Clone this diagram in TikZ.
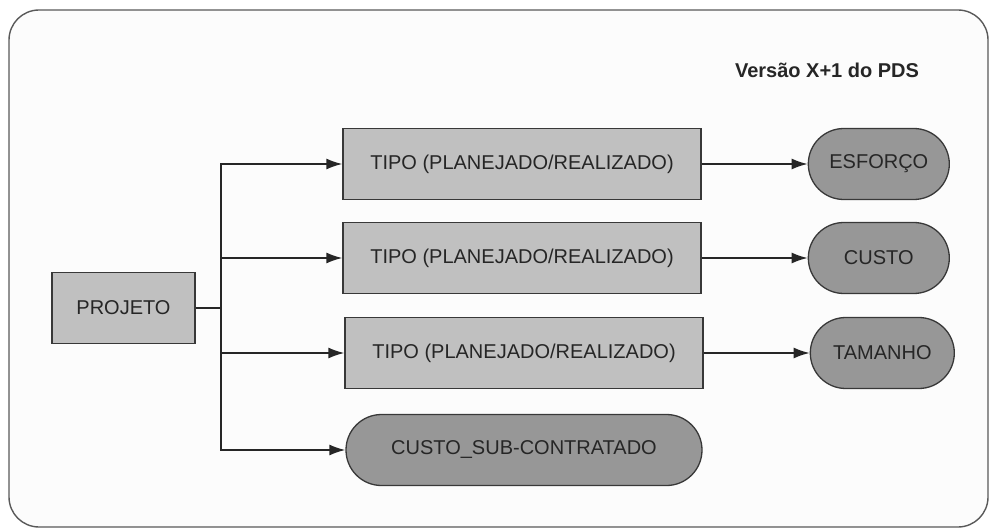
\documentclass[tikz,border=0pt]{standalone}
\usepackage{fontspec}
\setmainfont{Liberation Sans}
\usetikzlibrary{arrows.meta}
\usetikzlibrary{shapes.misc,positioning}
\definecolor{caixa}{HTML}{C0C0C0}
\definecolor{oval}{HTML}{979797}
\definecolor{borda}{HTML}{383838}
\tikzset{
	every node/.style = {text=black!85, font=\fontsize{20}{24}\selectfont},
	tipo/.style = {draw=borda, line width=1.3pt, fill=caixa, minimum width=358pt, minimum height=71pt, inner sep=0pt},
	medida/.style = {draw=borda, line width=1.3pt, fill=oval, rounded rectangle, minimum width=141pt, minimum height=71pt, inner sep=0pt}
}

\begin{document}
\begin{tikzpicture}[x=1pt, y=-1pt, -{Latex[length=16pt,width=11pt]}, line width=1.6pt, draw=black!85]
	\useasboundingbox (0,0) rectangle (990,529);
	\draw[-, draw=black!65, line width=1.4pt, fill=black!1, rounded corners=30pt] (9,10) rectangle (988,527);
	\node (versao) [font=\bfseries\fontsize{20}{24}\selectfont] at (827,70) {Versão X+1 do PDS};
	\node (projeto) [tipo, minimum width=143pt] at (123.5,308) {PROJETO};
	\node (tipoA) [tipo] at (522,164) {TIPO (PLANEJADO/REALIZADO)};
	\node (tipoB) [tipo] at (522,258) {TIPO (PLANEJADO/REALIZADO)};
	\node (tipoC) [tipo] at (524,353) {TIPO (PLANEJADO/REALIZADO)};
	\node (custosub) [medida, minimum width=356pt] at (524,450) {CUSTO\_SUB-CONTRATADO};
	\node (esforco) [medida, right=106pt of tipoA] {ESFORÇO};
	\node (custo) [medida, right=106pt of tipoB] {CUSTO};
	\node (tamanho) [medida, right=106pt of tipoC, minimum width=144pt] {TAMANHO};
	\coordinate (garfo) at (221,308);
	\draw[-, line width=2pt] (projeto) -- (garfo);
	\draw (garfo) |- (tipoA);
	\draw (garfo) |- (tipoB);
	\draw (garfo) |- (tipoC);
	\draw (garfo) |- (custosub);
	\draw (tipoA) -- (esforco);
	\draw (tipoB) -- (custo);
	\draw (tipoC) -- (tamanho);
\end{tikzpicture}
\end{document}
